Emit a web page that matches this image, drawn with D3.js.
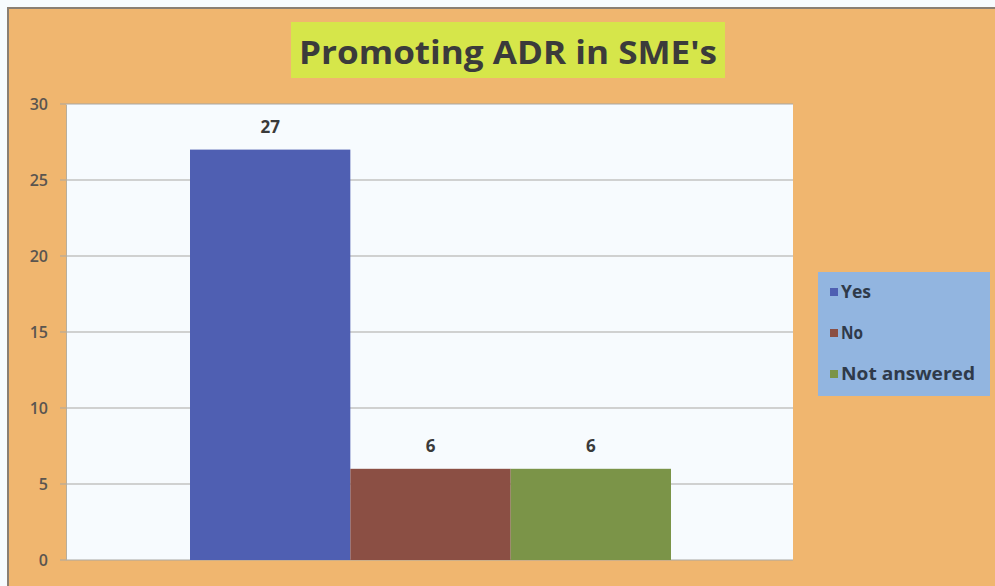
<!DOCTYPE html>
<html><head><meta charset="utf-8">
<script src="https://cdn.jsdelivr.net/npm/d3@7"></script>
<style>html,body{margin:0;padding:0;background:#f7fbfd;}svg{display:block;}</style>
</head><body>
<svg id="chart" width="995" height="586"></svg>
<script>
const categories = ["Yes", "No", "Not answered"];
const values = [27, 6, 6];
const yTicks = [0, 5, 10, 15, 20, 25, 30];
const colors = ["#4f5fb2", "#8b4f44", "#7b9448"];
const title = "Promoting ADR in SME's";

const svg = d3.select("#chart");
// frame
svg.append("rect").attr("x", 8).attr("y", 8).attr("width", 995).attr("height", 600)
  .attr("fill", "#f0b66f").attr("stroke", "#8a7f72").attr("stroke-width", 2);

const plot = {left: 66, right: 793, top: 104, bottom: 560};
const y = d3.scaleLinear().domain([0, 30]).range([plot.bottom, plot.top]);
const x = d3.scaleBand().domain(categories).range([190, 671]).padding(0);

// plot area
svg.append("rect").attr("x", plot.left).attr("y", plot.top)
  .attr("width", plot.right - plot.left).attr("height", plot.bottom - plot.top)
  .attr("fill", "#f7fbfe");

// gridlines
svg.append("g").selectAll("line").data(yTicks).join("line")
  .attr("x1", plot.left - 6).attr("x2", plot.right)
  .attr("y1", d => y(d)).attr("y2", d => y(d))
  .attr("stroke", "#a9a7a3").attr("stroke-width", 1);

// y axis
const yAxis = d3.axisLeft(y).tickValues(yTicks).tickSize(0).tickPadding(18);
const ga = svg.append("g").attr("transform", `translate(${plot.left},0)`).call(yAxis);
ga.select(".domain").attr("stroke", "#b8ae9c");
ga.selectAll("text").attr("font-family", "Open Sans, sans-serif").attr("font-size", 16)
  .attr("font-weight", 600).attr("fill", "#5a5550");

// bars
svg.append("g").selectAll("rect").data(categories).join("rect")
  .attr("x", d => x(d)).attr("width", x.bandwidth())
  .attr("y", (d, i) => y(values[i])).attr("height", (d, i) => y(0) - y(values[i]))
  .attr("fill", (d, i) => colors[i]);

// labels
svg.append("g").selectAll("text").data(categories).join("text")
  .attr("x", d => x(d) + x.bandwidth() / 2)
  .attr("y", (d, i) => y(values[i]) - 17)
  .attr("text-anchor", "middle")
  .attr("font-family", "Open Sans, sans-serif").attr("font-size", 17).attr("font-weight", 700)
  .attr("fill", "#3a3a3a").text((d, i) => values[i]);

// title
svg.append("rect").attr("x", 291).attr("y", 22).attr("width", 434).attr("height", 56).attr("fill", "#d6e64a");
svg.append("text").attr("x", 508).attr("y", 64).attr("text-anchor", "middle")
  .attr("font-family", "Open Sans, sans-serif").attr("font-size", 32).attr("font-weight", 700)
  .attr("fill", "#3b3b3b").attr("textLength", 418).attr("lengthAdjust", "spacingAndGlyphs").text(title);

// legend
const lg = svg.append("g");
lg.append("rect").attr("x", 818).attr("y", 272).attr("width", 172).attr("height", 124).attr("fill", "#92b5e0");
const items = lg.selectAll("g").data(categories).join("g")
  .attr("transform", (d, i) => `translate(830,${294 + i * 41})`);
items.append("rect").attr("x", 0).attr("y", -6).attr("width", 8).attr("height", 8).attr("fill", (d, i) => colors[i]);
items.append("text").attr("x", 11).attr("y", 4).attr("font-family", "Open Sans, sans-serif")
  .attr("font-size", 17).attr("font-weight", 700).attr("fill", "#2f3a4a")
  .attr("textLength", (d, i) => [30, 22, 134][i]).attr("lengthAdjust", "spacingAndGlyphs").text(d => d);
</script>
</body></html>
